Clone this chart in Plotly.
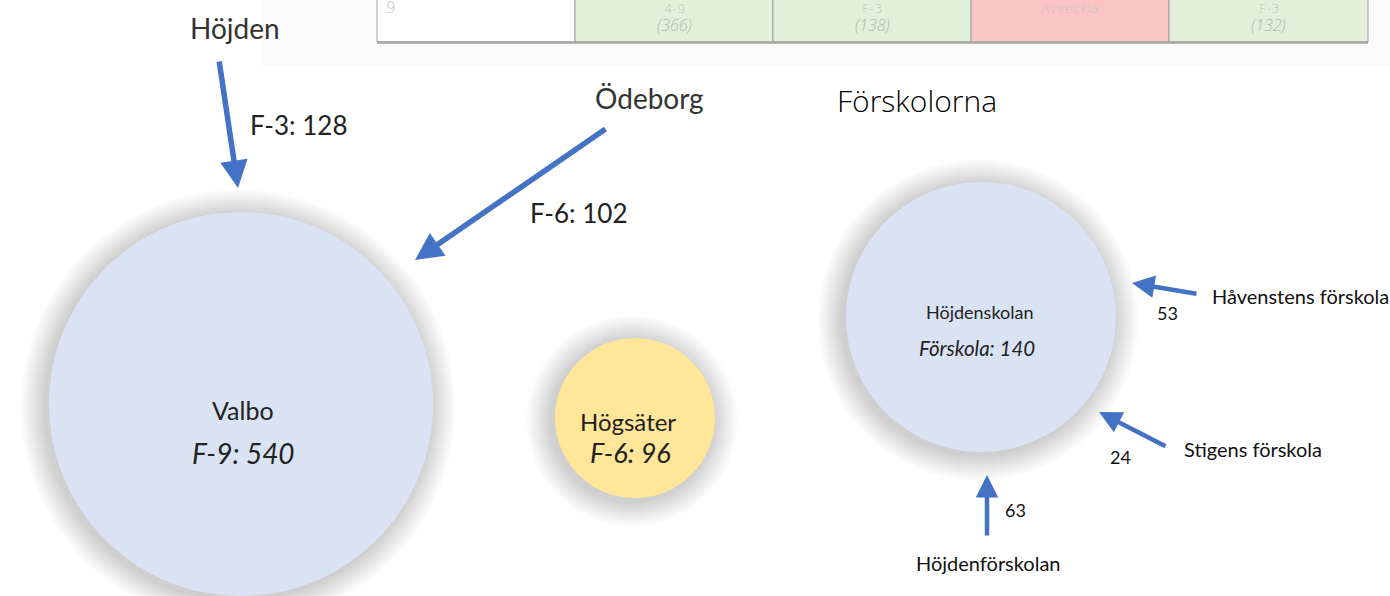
import plotly.graph_objects as go

# ---- data ----
table_cols = ["9", "4-9", "F-3", "Avveckla", "F-3"]
table_vals = ["", "(366)", "(138)", "", "(132)"]
table_fill = ["#ffffff", "#e2efd9", "#e2efd9", "#fbc5c6", "#e2efd9"]

schools = ["Valbo", "Högsäter", "Höjdenskolan"]
school_labels = ["F-9: 540", "F-6: 96", "Förskola: 140"]
school_colors = ["#dae3f3", "#ffe699", "#dae3f3"]

feeders = ["Höjden", "Ödeborg"]
feeder_labels = ["F-3: 128", "F-6: 102"]

preschools = ["Håvenstens förskola", "Stigens förskola", "Höjdenförskolan"]
preschool_counts = [53, 24, 63]

# ---- layout geometry (pixel coordinates) ----
W, H = 1390, 596
table_x = [377, 575, 773, 971, 1169, 1368]
circ_c = [(241, 404), (635, 418), (981, 317)]
circ_r = [192, 80, 135]
feeder_pos = [(235, 28), (649, 98)]
feeder_arrow = [((219, 60), (238, 188)), ((607, 128), (415, 260))]
feeder_lab_pos = [(298, 125), (578, 213)]
pre_lab_pos = [(1210, 296, "left"), (1182, 449, "left"), (988, 563, "center")]
pre_arrow = [((1198, 294), (1132, 283)), ((1167, 447), (1099, 412)), ((987, 537), (987, 475))]
pre_cnt_pos = [(1167, 313), (1120, 457), (1015, 510)]

fig = go.Figure()
fig.add_trace(go.Scatter(x=[0, W], y=[0, H], mode="markers", marker=dict(opacity=0), hoverinfo="skip", showlegend=False))

shapes = []
ann = []
BLUE = "#4472c4"
FONT = "Lato, 'Open Sans', sans-serif"

# top table area
shapes.append(dict(type="rect", x0=262, x1=W, y0=0, y1=66, fillcolor="#fafafa", line_width=0, layer="below"))
for i in range(5):
    shapes.append(dict(type="rect", x0=table_x[i], x1=table_x[i + 1], y0=-10, y1=42,
                       fillcolor=table_fill[i], line=dict(color="#a0a0a0", width=1), layer="below"))
shapes.append(dict(type="line", x0=table_x[0], x1=table_x[-1], y0=42.5, y1=42.5, line=dict(color="#a6a6a6", width=2.5)))
for i in range(5):
    cx = (table_x[i] + table_x[i + 1]) / 2
    if i == 0:
        ann.append(dict(x=table_x[0] + 14, y=8, text=table_cols[i], showarrow=False,
                        font=dict(family="DejaVu Sans", size=15, color="#bdbdbd", weight=300)))
    else:
        ann.append(dict(x=cx, y=8, text=table_cols[i], showarrow=False,
                        font=dict(family="DejaVu Sans", size=13, color="#c4c4c4", weight=300)))
    if table_vals[i]:
        ann.append(dict(x=cx, y=25, text="<i>" + table_vals[i] + "</i>", showarrow=False,
                        font=dict(family="'Open Sans', sans-serif", size=16, color="#b4b4b4", weight=300)))

# circles with soft shadows
for (cx, cy), r, col in zip(circ_c, circ_r, school_colors):
    for k in range(16, 0, -1):
        rr = r + k * 1.6
        shapes.append(dict(type="circle", x0=cx - rr - 3, x1=cx + rr - 3, y0=cy - rr + 3, y1=cy + rr + 3,
                           fillcolor="rgba(80,80,80,0.016)", line_width=0, layer="below"))
    shapes.append(dict(type="circle", x0=cx - r, x1=cx + r, y0=cy - r, y1=cy + r,
                       fillcolor=col, line_width=0, layer="below"))

# circle labels
ann.append(dict(x=243, y=410, text=schools[0], showarrow=False, font=dict(family=FONT, size=25, color="#222")))
ann.append(dict(x=243, y=453, text="<i>" + school_labels[0] + "</i>", showarrow=False, font=dict(family=FONT, size=28, color="#222")))
ann.append(dict(x=628, y=421, text=schools[1], showarrow=False, font=dict(family=FONT, size=24, color="#222")))
ann.append(dict(x=630, y=452, text="<i>" + school_labels[1] + "</i>", showarrow=False, font=dict(family=FONT, size=27, color="#222")))
ann.append(dict(x=980, y=312, text=schools[2], showarrow=False, font=dict(family=FONT, size=18, color="#222")))
ann.append(dict(x=977, y=348, text="<i>" + school_labels[2] + "</i>", showarrow=False, font=dict(family=FONT, size=20.5, color="#222")))

# feeders
for name, (fx, fy), lab, (lx, ly), (tail, head) in zip(feeders, feeder_pos, feeder_labels, feeder_lab_pos, feeder_arrow):
    ann.append(dict(x=fx, y=fy, text=name, showarrow=False, font=dict(family=FONT, size=28, color="#333")))
    ann.append(dict(x=lx, y=ly, text=lab, showarrow=False, font=dict(family=FONT, size=26, color="#222")))
    ann.append(dict(x=head[0], y=head[1], ax=tail[0], ay=tail[1], axref="x", ayref="y", text="",
                    showarrow=True, arrowhead=2, arrowsize=1.0, arrowwidth=5.5, arrowcolor=BLUE))

ann.append(dict(x=835, y=100, text="Förskolorna", showarrow=False, xanchor="left",
                font=dict(family="'Open Sans', sans-serif", size=30, color="#000", weight=300)))

# preschools
for name, (px, py, anc), cnt, (nx, ny), (tail, head) in zip(preschools, pre_lab_pos, preschool_counts, pre_cnt_pos, pre_arrow):
    ann.append(dict(x=px, y=py, text=name, showarrow=False, xanchor=anc, font=dict(family=FONT, size=20, color="#111")))
    ann.append(dict(x=nx, y=ny, text=str(cnt), showarrow=False, font=dict(family=FONT, size=18, color="#111")))
    ann.append(dict(x=head[0], y=head[1], ax=tail[0], ay=tail[1], axref="x", ayref="y", text="",
                    showarrow=True, arrowhead=2, arrowsize=1.0, arrowwidth=4.5, arrowcolor=BLUE))

fig.update_layout(
    width=W, height=H, margin=dict(l=0, r=0, t=0, b=0),
    paper_bgcolor="white", plot_bgcolor="white",
    xaxis=dict(range=[0, W], visible=False, fixedrange=True),
    yaxis=dict(range=[H, 0], visible=False, fixedrange=True),
    shapes=shapes, annotations=ann, showlegend=False,
)
fig.write_html("out.html", config={"displayModeBar": False},
               post_script="document.body.style.margin='0';document.body.style.overflow='hidden';")
